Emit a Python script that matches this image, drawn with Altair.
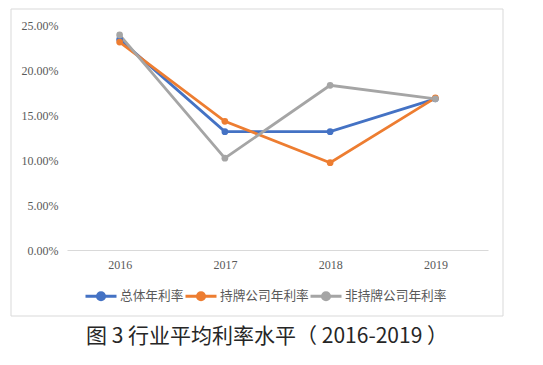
import altair as alt
import pandas as pd

years = ["2016", "2017", "2018", "2019"]
series_names = ["总体年利率", "持牌公司年利率", "非持牌公司年利率"]
overall = [0.234, 0.1315, 0.1315, 0.168]
licensed = [0.231, 0.143, 0.097, 0.169]
unlicensed = [0.239, 0.102, 0.183, 0.168]
colors = ["#4472C4", "#ED7D31", "#A5A5A5"]
y_ticks = [0, 0.05, 0.10, 0.15, 0.20, 0.25]
title_text = "图 3 行业平均利率水平（ 2016-2019 ）"

rows = []
for name, vals in zip(series_names, [overall, licensed, unlicensed]):
    for i, (yr, v) in enumerate(zip(years, vals)):
        rows.append({"year": yr, "rate": v, "series": name})
df = pd.DataFrame(rows)

sym = "M-1,0H1M-0.23,0A0.23,0.23,0,1,1,0.23,0A0.23,0.23,0,1,1,-0.23,0Z"

frame = alt.Chart(pd.DataFrame({"a": [0]})).mark_rect(
    fill="transparent", stroke="#d9d9d9", strokeWidth=1
).encode(x=alt.value(-56), x2=alt.value(436), y=alt.value(-16), y2=alt.value(291))

lines = alt.Chart(df).mark_line(
    strokeWidth=2.8,
    point=alt.OverlayMarkDef(filled=True, size=45, opacity=1),
).encode(
    x=alt.X("year:N", scale=alt.Scale(type="point", padding=0.5),
            axis=alt.Axis(title=None, labelAngle=0, ticks=False, domainColor="#d9d9d9",
                          labelPadding=9, labelFont="Liberation Serif", labelFontSize=12,
                          labelColor="#595959", grid=False)),
    y=alt.Y("rate:Q", scale=alt.Scale(domain=[0, 0.25], nice=False),
            axis=alt.Axis(title=None, values=y_ticks, format=".2%", grid=False, domain=False,
                          ticks=False, labelPadding=9, labelFont="Liberation Serif",
                          labelFontSize=12, labelColor="#595959")),
    color=alt.Color("series:N", scale=alt.Scale(domain=series_names, range=colors),
                    sort=series_names,
                    legend=alt.Legend(title=None, orient="none", direction="horizontal",
                                      legendX=17, legendY=254, symbolType=sym,
                                      symbolSize=961, symbolStrokeWidth=3,
                                      labelFont="Noto Sans CJK SC", labelFontSize=12.7,
                                      labelColor="#595959", columnPadding=-6, labelOffset=2)),
    order=alt.Order("series_order:Q"),
).transform_calculate(
    series_order="indexof(['总体年利率','持牌公司年利率','非持牌公司年利率'], datum.series)"
)

title = alt.Chart(pd.DataFrame({"t": [title_text]})).mark_text(
    font="Noto Sans CJK SC", fontSize=21, color="#262626", align="center", baseline="middle"
).encode(text="t:N", x=alt.value(200), y=alt.value(312))

chart = alt.layer(frame, lines, title).properties(
    width=421, height=225,
    autosize=alt.AutoSizeParams(type="none"),
    padding={"left": 59, "top": 17, "right": 47, "bottom": 100},
).configure_view(stroke=None)

chart.save("out.html", embed_options={"renderer": "svg", "actions": False})
